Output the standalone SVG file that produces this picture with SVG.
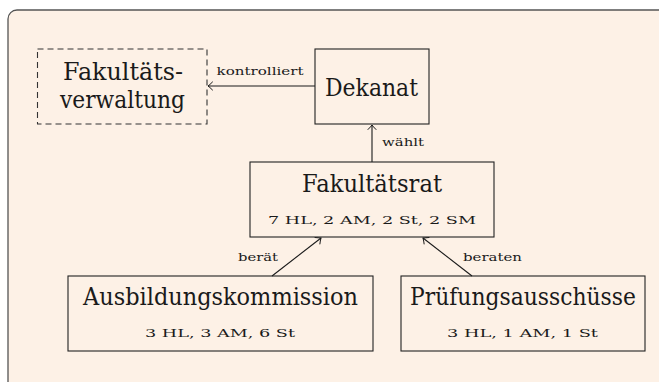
<svg xmlns="http://www.w3.org/2000/svg" width="659" height="382" viewBox="0 0 659 382">
<defs>
<style>
.box{fill:none;stroke:#222;stroke-width:1.1}
.dash{fill:none;stroke:#333;stroke-width:1.1;stroke-dasharray:6,4}
.big{font-family:"DejaVu Serif","Liberation Serif",serif;font-size:24px;fill:#1a1a1a}
.sm{font-family:"DejaVu Serif","Liberation Serif",serif;font-size:10.5px;fill:#1a1a1a}
.sub{font-family:"DejaVu Serif","Liberation Serif",serif;font-size:11px;fill:#1a1a1a}
.edge{fill:none;stroke:#1a1a1a;stroke-width:1.1}
</style>
<marker id="arr" markerUnits="userSpaceOnUse" markerWidth="12" markerHeight="12" refX="0" refY="0" viewBox="-6 -6 12 12" orient="auto" overflow="visible">
<path d="M-4.5,-4 Q-1.5,-1 0,0 Q-1.5,1 -4.5,4" fill="none" stroke="#1a1a1a" stroke-width="1" stroke-linecap="round"/>
</marker>
</defs>
<rect x="8" y="10" width="680" height="400" rx="9" ry="9" fill="#fdf1e6" stroke="#555" stroke-width="1.3"/>

<g id="connectors">
<line class="edge" x1="315" y1="86" x2="208" y2="86" marker-end="url(#arr)"/>
<text class="sm" x="216.5" y="75" textLength="87" lengthAdjust="spacingAndGlyphs">kontrolliert</text>
<line class="edge" x1="372" y1="162" x2="372" y2="125" marker-end="url(#arr)"/>
<text class="sm" x="382" y="146" textLength="42" lengthAdjust="spacingAndGlyphs">wählt</text>
<line class="edge" x1="272" y1="276" x2="321" y2="238" marker-end="url(#arr)"/>
<text class="sm" x="238" y="261" textLength="40" lengthAdjust="spacingAndGlyphs">berät</text>
<line class="edge" x1="472" y1="276" x2="423" y2="238" marker-end="url(#arr)"/>
<text class="sm" x="463" y="261" textLength="59" lengthAdjust="spacingAndGlyphs">beraten</text>
</g>

<g id="fakultaetsverwaltung">
<rect class="dash" x="37.5" y="49" width="169.5" height="75"/>
<text class="big" x="63" y="80" textLength="120" lengthAdjust="spacingAndGlyphs">Fakultäts-</text>
<text class="big" x="60" y="108" textLength="125" lengthAdjust="spacingAndGlyphs">verwaltung</text>
</g>

<g id="dekanat">
<rect class="box" x="315" y="49" width="114" height="75"/>
<text class="big" x="325" y="96" textLength="93" lengthAdjust="spacingAndGlyphs">Dekanat</text>
</g>

<g id="fakultaetsrat">
<rect class="box" x="250" y="162" width="244" height="75"/>
<text class="big" x="302" y="192" textLength="140" lengthAdjust="spacingAndGlyphs">Fakultätsrat</text>
<text class="sub" x="268" y="224" textLength="208" lengthAdjust="spacingAndGlyphs">7 HL, 2 AM, 2 St, 2 SM</text>
</g>

<g id="ausbildungskommission">
<rect class="box" x="68" y="276" width="305" height="75"/>
<text class="big" x="83" y="305" textLength="275" lengthAdjust="spacingAndGlyphs">Ausbildungskommission</text>
<text class="sub" x="145" y="337" textLength="150" lengthAdjust="spacingAndGlyphs">3 HL, 3 AM, 6 St</text>
</g>

<g id="pruefungsausschuesse">
<rect class="box" x="401" y="276" width="244" height="75"/>
<text class="big" x="410" y="305" textLength="226" lengthAdjust="spacingAndGlyphs">Prüfungsausschüsse</text>
<text class="sub" x="447" y="337" textLength="151" lengthAdjust="spacingAndGlyphs">3 HL, 1 AM, 1 St</text>
</g>
</svg>
